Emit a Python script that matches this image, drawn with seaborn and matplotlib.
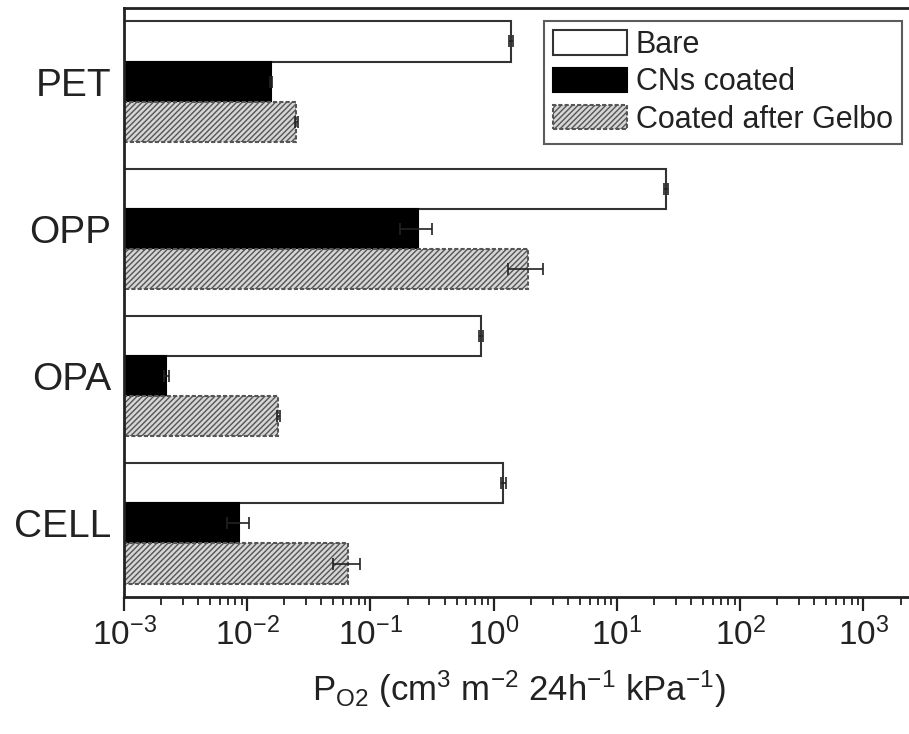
import numpy as np
import pandas as pd
import matplotlib
matplotlib.use('Agg')
import matplotlib.pyplot as plt
import seaborn as sns

# data (O2 permeance)
films = ['PET', 'OPP', 'OPA', 'CELL']
series = ['Bare', 'CNs coated', 'Coated after Gelbo']
bare = [1.38, 25.0, 0.79, 1.2]
cns = [0.0155, 0.245, 0.0022, 0.0086]
gelbo = [0.025, 1.9, 0.0178, 0.066]
bare_err = [0.05, 1.0, 0.03, 0.05]
cns_err = [0.0003, 0.07, 0.0001, 0.0017]
gelbo_err = [0.0007, 0.6, 0.0005, 0.016]

df = pd.DataFrame({
    'film': films * 3,
    'kind': np.repeat(series, len(films)),
    'P': bare + cns + gelbo,
})
errs = [bare_err, cns_err, gelbo_err]

sns.set_style('white')
plt.rcParams['font.family'] = ['Liberation Sans', 'DejaVu Sans']
plt.rcParams['mathtext.fontset'] = 'custom'
plt.rcParams['mathtext.rm'] = 'Liberation Sans'
plt.rcParams['mathtext.it'] = 'Liberation Sans'
plt.rcParams['axes.unicode_minus'] = False
plt.rcParams['hatch.color'] = '#707070'

fig = plt.figure(figsize=(9.09, 7.34), dpi=100)
# right spine falls just outside the picture, as in the original
ax = fig.add_axes([124 / 909, 1 - 597 / 734, 790 / 909, 589 / 734])

sns.barplot(data=df, y='film', x='P', hue='kind', order=films, hue_order=series,
            orient='h', width=0.82, legend=False, ax=ax,
            palette=['white', 'black', '#d6d6d6'], saturation=1)
bars = list(ax.containers)

styles = [dict(edgecolor='#333333', hatch=None),
          dict(edgecolor='black', hatch=None),
          dict(edgecolor='#555555', hatch='//////')]
for cont, st in zip(bars, styles):
    for p in cont.patches:
        p.set_edgecolor(st['edgecolor'])
        p.set_linewidth(1.5)
        if st['hatch']:
            p.set_hatch(st['hatch'])
            p.set_linestyle((0, (2, 1)))

# error bars at the bar ends
for cont, e in zip(bars, errs):
    xs = [p.get_width() for p in cont.patches]
    ys = [p.get_y() + p.get_height() / 2 for p in cont.patches]
    ax.errorbar(xs, ys, xerr=e, fmt='none', ecolor='#222222', elinewidth=1.2,
                capsize=4, capthick=1.2)

ax.set_xscale('log')
ax.set_xlim(1e-3, 2570)
ax.set_ylim(3.5, -0.5)
ax.set_xticks([1e-3, 1e-2, 1e-1, 1e0, 1e1, 1e2, 1e3])
ax.xaxis.set_minor_locator(matplotlib.ticker.LogLocator(base=10, subs=np.arange(2, 10), numticks=20))
ax.xaxis.set_minor_formatter(matplotlib.ticker.NullFormatter())
ax.tick_params(axis='x', which='both', bottom=True, direction='out')
ax.tick_params(axis='x', which='major', length=10, width=1.6, labelsize=24, pad=5, colors='#222222')
ax.tick_params(axis='x', which='minor', length=6, width=1.3, colors='#222222')
ax.tick_params(axis='y', left=False, length=0, labelsize=28, pad=9, colors='#222222')
for s in ax.spines.values():
    s.set_visible(True)
    s.set_linewidth(2)
    s.set_color('#222222')

ax.set_ylabel('')
ax.set_xlabel(r'P$_{\rm O2}$ (cm$^3$ m$^{-2}$ 24h$^{-1}$ kPa$^{-1}$)', fontsize=25,
              labelpad=12, color='#222222')

leg = ax.legend([c.patches[0] for c in bars], series, loc='upper right',
                bbox_to_anchor=(902 / 909, 1 - 21 / 734), bbox_transform=fig.transFigure,
                fontsize=22, frameon=True, fancybox=False, edgecolor='#333333',
                handlelength=2.4, handleheight=0.85, handletextpad=0.3,
                labelspacing=0.24, borderpad=0.3, borderaxespad=0.0)
leg.get_frame().set_linewidth(1.5)
for t in leg.get_texts():
    t.set_color('#222222')

fig.savefig('out.png', dpi=100)
